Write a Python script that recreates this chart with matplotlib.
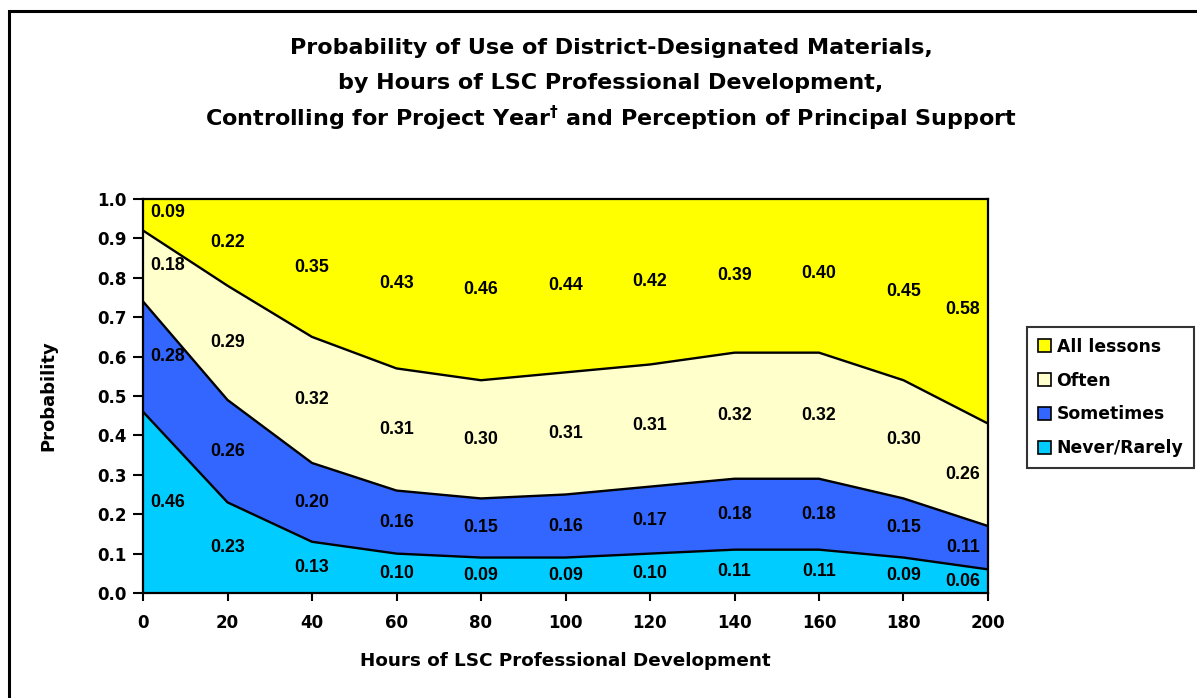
import matplotlib
matplotlib.use("Agg")
import matplotlib.pyplot as plt
from matplotlib.patches import Rectangle
from matplotlib import font_manager
import numpy as np

plt.rcParams['font.family'] = ['DejaVu Sans']
plt.rcParams['font.weight'] = 'bold'
plt.rcParams['mathtext.fontset'] = 'dejavusans'

hours = [0, 20, 40, 60, 80, 100, 120, 140, 160, 180, 200]
never_rarely = [0.46, 0.23, 0.13, 0.10, 0.09, 0.09, 0.10, 0.11, 0.11, 0.09, 0.06]
sometimes = [0.28, 0.26, 0.20, 0.16, 0.15, 0.16, 0.17, 0.18, 0.18, 0.15, 0.11]
often = [0.18, 0.29, 0.32, 0.31, 0.30, 0.31, 0.31, 0.32, 0.32, 0.30, 0.26]
all_lessons = [0.09, 0.22, 0.35, 0.43, 0.46, 0.44, 0.42, 0.39, 0.40, 0.45, 0.58]

series_names = ["Never/Rarely", "Sometimes", "Often", "All lessons"]
series_values = [never_rarely, sometimes, often, all_lessons]
colors = ["#00CCFF", "#3366FF", "#FFFFCC", "#FFFF00"]


def regular_width_bold(family):
    """Bold, upright, non-narrow face of a family, as FontProperties."""
    for f in font_manager.fontManager.ttflist:
        if (f.name == family and f.weight in (700, "bold") and f.style == "normal"
                and "narrow" not in f.fname.lower()):
            return font_manager.FontProperties(fname=f.fname, size=12.8)
    return font_manager.FontProperties(family="DejaVu Sans", weight="bold", size=11)


value_font = regular_width_bold("Liberation Sans")

W, H = 1197, 698
fig = plt.figure(figsize=(W / 100, H / 100), dpi=100)

# outer chart frame
fig.patches.append(Rectangle((9 / W, -0.05), 1.2, 1 - 11 / H + 0.05,
                             transform=fig.transFigure, fill=False,
                             edgecolor="black", linewidth=2.2))

ax = fig.add_axes([143 / W, (H - 593) / H, (988 - 143) / W, 394 / H])

x = np.array(hours, dtype=float)
base = np.zeros(len(hours))
handles = []
n_series = len(series_values)
for k, (name, vals, col) in enumerate(zip(series_names, series_values, colors)):
    v = np.array(vals)
    top = base + v
    if k == n_series - 1:
        # top band always fills to the top of the scale
        h = ax.fill_between(x, base, np.maximum(top, 1.0), facecolor=col,
                            edgecolor="none", label=name)
    else:
        h = ax.fill_between(x, base, top, facecolor=col, edgecolor="none", label=name)
        ax.plot(x, top, color="black", linewidth=1.7, solid_joinstyle="miter")
    handles.append(h)
    for i, (xi, b, vi) in enumerate(zip(x, base, v)):
        dx = 0
        if i == 0:
            dx = 18
        elif i == len(x) - 1:
            dx = -18
        ax.annotate(f"{vi:.2f}", (xi, b + vi / 2), xytext=(dx, 0),
                    textcoords="offset points", ha="center", va="center",
                    fontproperties=value_font, color="black")
    base = top

ax.set_xlim(0, 200)
ax.set_ylim(0, 1.0)
ax.set_xticks(hours)
ax.set_xticklabels([str(h) for h in hours])
yt = np.round(np.arange(0, 1.01, 0.1), 1)
ax.set_yticks(yt)
ax.set_yticklabels([f"{t:.1f}" for t in yt])
ax.tick_params(axis="x", direction="out", length=6, width=1.5, labelsize=12, pad=9)
ax.tick_params(axis="y", direction="out", length=7, width=1.5, labelsize=12, pad=5)
for lab in ax.get_xticklabels() + ax.get_yticklabels():
    lab.set_fontweight("bold")
for s in ax.spines.values():
    s.set_linewidth(1.6)
    s.set_color("black")

fig.text(48 / W, 1 - 396 / H, "Probability", rotation=90, ha="center",
         va="center", fontsize=13, fontweight="bold")
fig.text(565 / W, 1 - 661 / H, "Hours of LSC Professional Development",
         ha="center", va="center", fontsize=13.2, fontweight="bold")

title_lines = [
    "Probability of Use of District-Designated Materials,",
    "by Hours of LSC Professional Development,",
    r"Controlling for Project Year$^\mathbf{\dagger}$ and Perception of Principal Support",
]
for k, line in enumerate(title_lines):
    fig.text(611 / W, 1 - (48 + 35 * k) / H, line, ha="center", va="center",
             fontsize=16, fontweight="bold")

leg_handles = handles[::-1]
leg = fig.legend(leg_handles, [h.get_label() for h in leg_handles],
                 loc="upper left", bbox_to_anchor=(1027 / W, 1 - 327 / H),
                 frameon=True, fancybox=False, edgecolor="black",
                 prop={"weight": "bold", "size": 12.4}, handlelength=0.75,
                 handleheight=0.75, handletextpad=0.35, labelspacing=0.92,
                 borderpad=0.62, borderaxespad=0)
leg.get_frame().set_linewidth(1.5)
for p in leg.get_patches():
    p.set_edgecolor("black")
    p.set_linewidth(1.2)

fig.savefig("out.png", dpi=100)
